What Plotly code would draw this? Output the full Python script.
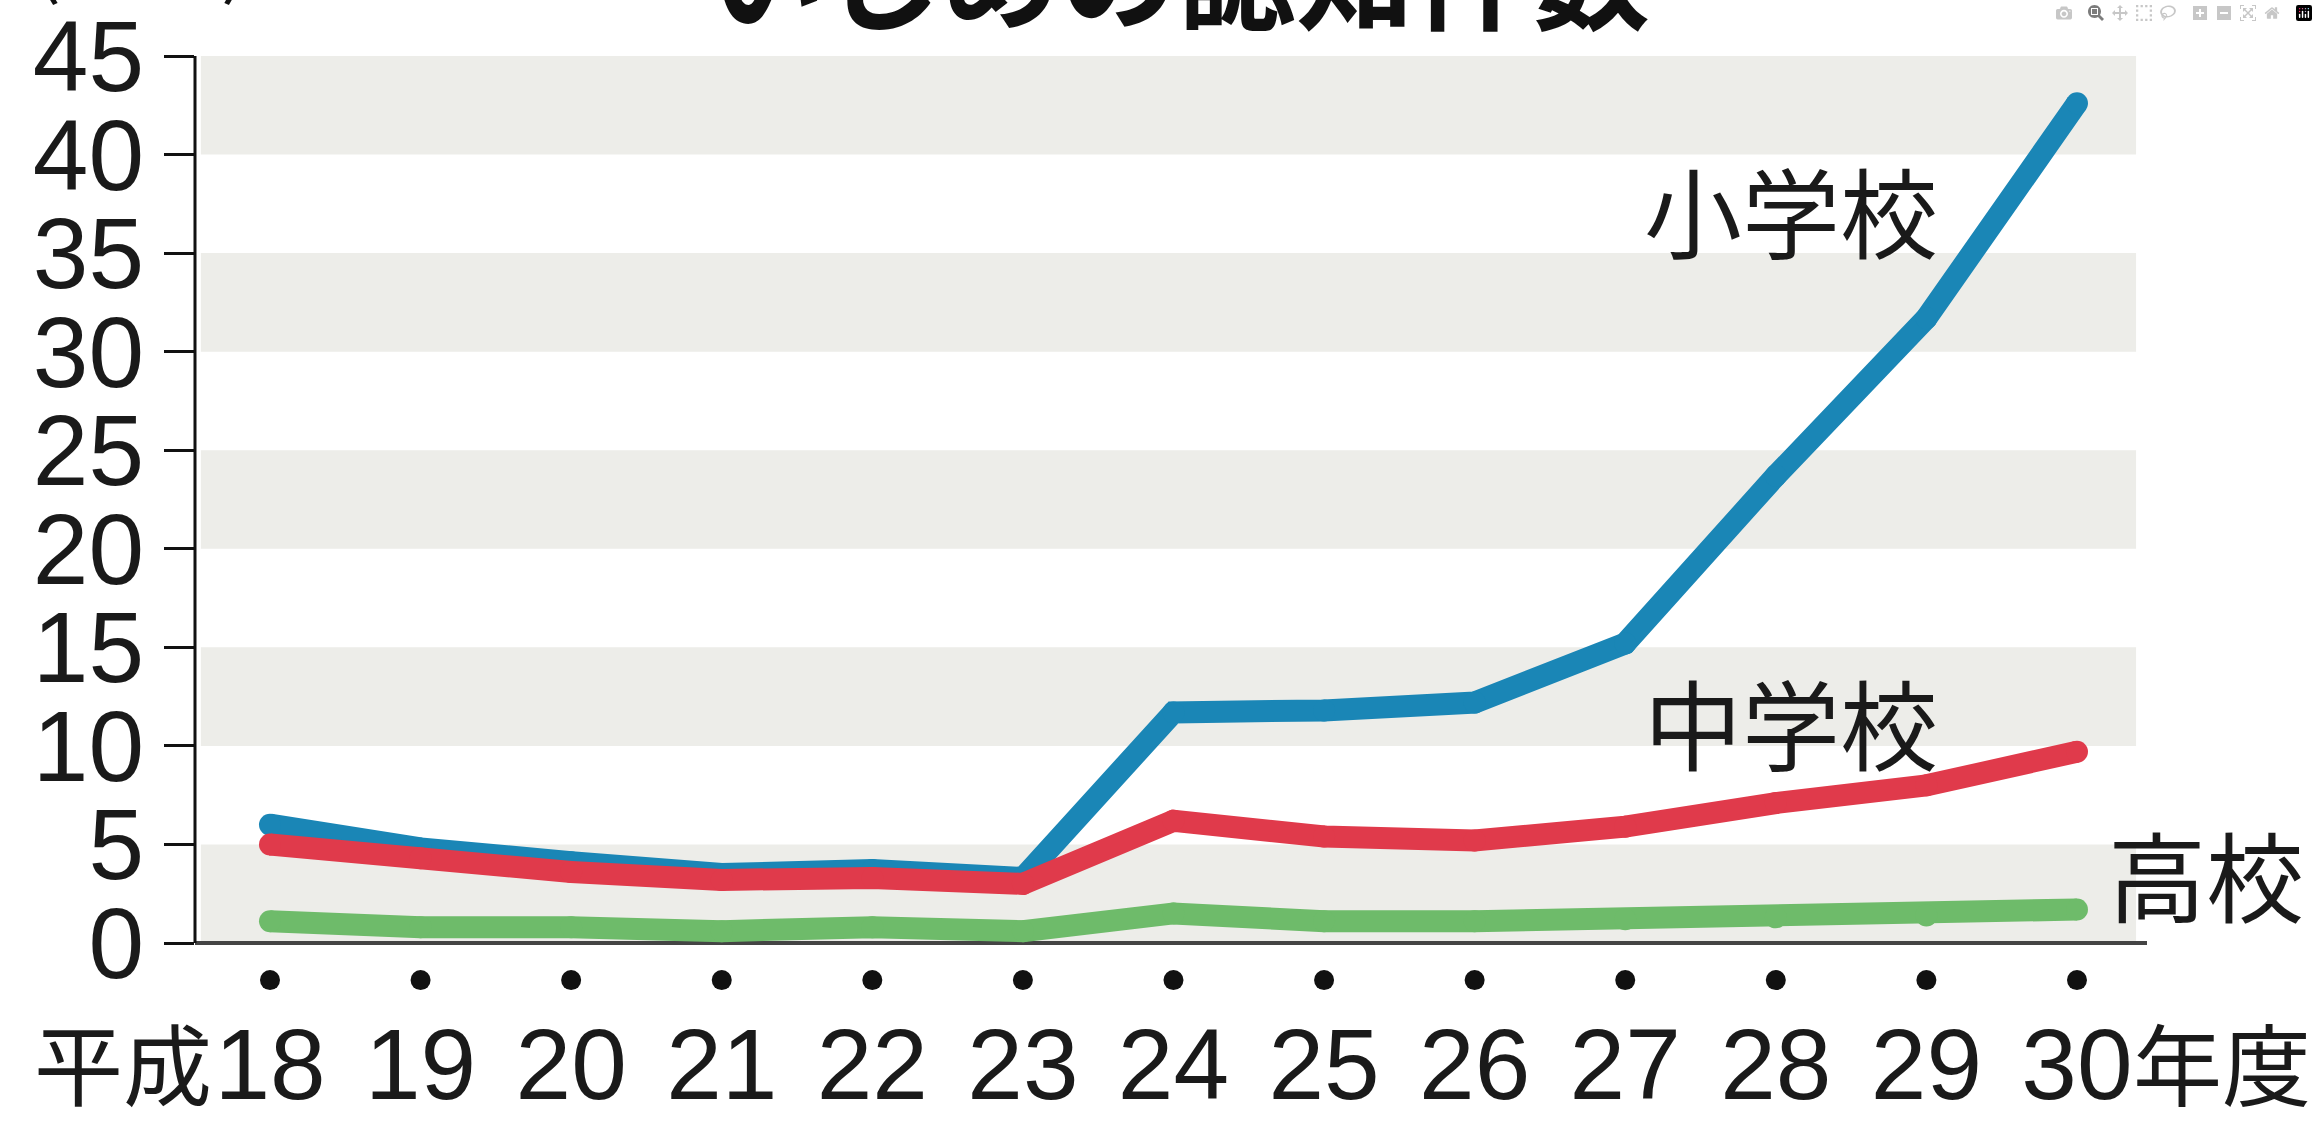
import plotly.graph_objects as go

years = ["18", "19", "20", "21", "22", "23", "24", "25", "26", "27", "28", "29", "30"]
elementary = [6.0, 4.8, 4.1, 3.5, 3.7, 3.3, 11.7, 11.8, 12.2, 15.2, 23.7, 31.7, 42.6]
junior_high = [5.0, 4.3, 3.6, 3.2, 3.3, 3.0, 6.2, 5.4, 5.2, 5.9, 7.1, 8.0, 9.7]
high_school = [1.1, 0.8, 0.8, 0.6, 0.8, 0.6, 1.5, 1.1, 1.1, 1.2, 1.3, 1.4, 1.7]
y_ticks = [0, 5, 10, 15, 20, 25, 30, 35, 40, 45]
series_names = ["小学校", "中学校", "高校"]
title_text = "いじめの認知件数"
unit_text = "(万件)"

W, H = 2318, 1123
L, R, T, B = 195, 171, 56, 131
NUM_FONT = "Liberation Sans, Arial, sans-serif"
JP_FONT = "Noto Sans CJK JP, sans-serif"

xs = list(range(len(years)))
colors = ["#1A86B6", "#E03A4B", "#6EBB6A"]
lw = 22

fig = go.Figure()
for vals, col, name in zip([elementary, junior_high, high_school], colors, series_names):
    fig.add_trace(go.Scatter(
        x=xs, y=vals, mode="lines+markers", name=name,
        line=dict(color=col, width=lw),
        marker=dict(color=col, size=lw, line=dict(width=0)),
        hoverinfo="skip", showlegend=False,
    ))

# dots under the axis marking each year
fig.add_trace(go.Scatter(
    x=xs, y=[-1.88] * len(xs), mode="markers",
    marker=dict(color="#111111", size=20),
    showlegend=False, hoverinfo="skip",
))

shapes = []
# alternating background bands
for lo in [0, 10, 20, 30, 40]:
    shapes.append(dict(type="rect", xref="x domain", yref="y",
                       x0=0.003, x1=0.9944, y0=lo, y1=lo + 5,
                       fillcolor="#EDEDE9", line=dict(width=0), layer="below"))
# vertical value axis line (0 to 45)
shapes.append(dict(type="line", xref="x domain", yref="y", x0=0, x1=0, y0=0, y1=45,
                   line=dict(color="#111111", width=3), layer="above"))

JP_DARK = "#1a1a1a"
annotations = [
    dict(x=10.1, y=37.3, xref="x", yref="y", text=series_names[0], showarrow=False,
         font=dict(family=JP_FONT, size=98, color=JP_DARK), xanchor="center", yanchor="middle"),
    dict(x=10.1, y=11.3, xref="x", yref="y", text=series_names[1], showarrow=False,
         font=dict(family=JP_FONT, size=98, color=JP_DARK), xanchor="center", yanchor="middle"),
    dict(x=(2206 - L) / (W - L - R), y=3.6, xref="paper", yref="y", text=series_names[2], showarrow=False,
         font=dict(family=JP_FONT, size=98, color=JP_DARK), xanchor="center", yanchor="middle"),
    dict(x=0, y=0, xref="x", yref="y", text="平成", showarrow=False,
         font=dict(family=JP_FONT, size=89, color=JP_DARK),
         xanchor="right", yanchor="middle", xshift=-56, yshift=-117),
    dict(x=12, y=0, xref="x", yref="y", text="年度", showarrow=False,
         font=dict(family=JP_FONT, size=89, color=JP_DARK),
         xanchor="left", yanchor="middle", xshift=54, yshift=-117),
    dict(x=(1178 - L) / (W - L - R), y=1, xref="paper", yref="paper",
         text="<b>" + title_text + "</b>", showarrow=False,
         font=dict(family=JP_FONT, size=118, color="#111111"),
         xanchor="center", yanchor="bottom", yshift=-1),
    dict(x=(141 - L) / (W - L - R), y=1, xref="paper", yref="paper", text=unit_text, showarrow=False,
         font=dict(family=JP_FONT, size=80, color="#111111"),
         xanchor="center", yanchor="bottom", yshift=42),
]

fig.update_layout(
    width=W, height=H, autosize=False,
    margin=dict(l=L, r=R, t=T, b=B, pad=0, autoexpand=False),
    paper_bgcolor="white", plot_bgcolor="white",
    shapes=shapes, annotations=annotations,
    xaxis=dict(
        range=[-0.498, 12.465], tickvals=xs, ticktext=years,
        showgrid=False, zeroline=False, showline=False, automargin=False,
        ticks="", ticklabelstandoff=6, ticklabeloverflow="allow",
        tickfont=dict(family=NUM_FONT, size=100, color="#1a1a1a"),
    ),
    yaxis=dict(
        range=[-2.486, 45], tickvals=y_ticks, ticktext=[str(v) for v in y_ticks],
        showgrid=False, showline=False, automargin=False,
        zeroline=True, zerolinecolor="#444444", zerolinewidth=4,
        ticks="outside", ticklen=30, tickwidth=3, tickcolor="#111111",
        ticklabelstandoff=0, ticklabeloverflow="allow",
        tickfont=dict(family=NUM_FONT, size=100, color="#1a1a1a"),
    ),
)

fig.write_html("out.html", post_script="document.body.style.margin='0';")
